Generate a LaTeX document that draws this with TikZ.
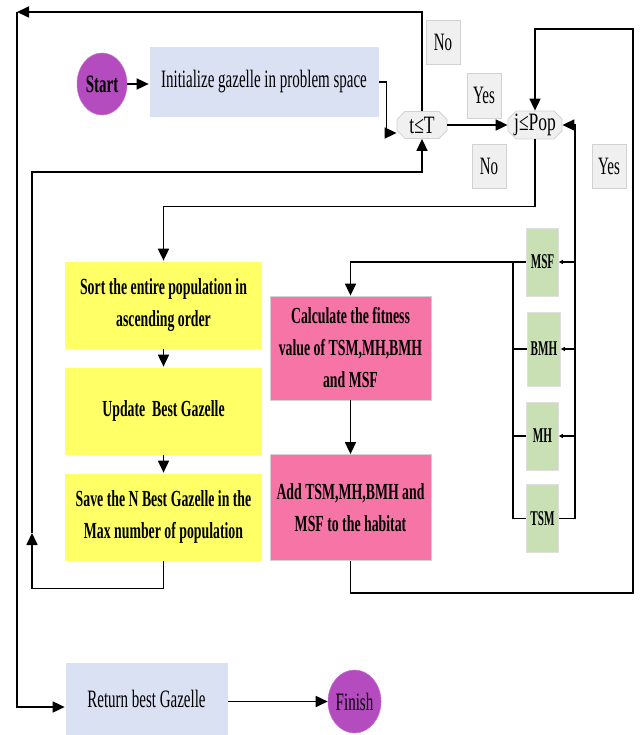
\documentclass[tikz,border=0pt]{standalone}
\usepackage{fontspec}
\setmainfont{Liberation Serif}
\newfontfamily\cf[FakeStretch=0.6]{Liberation Serif}
\newfontfamily\cg[FakeStretch=0.53]{Liberation Serif}
\newfontfamily\ct[FakeStretch=0.7]{Liberation Serif}
\usetikzlibrary{shapes.geometric,shapes.misc,arrows.meta,calc}
\definecolor{purp}{RGB}{180,76,191}
\definecolor{lav}{RGB}{218,225,243}
\definecolor{yel}{RGB}{255,255,102}
\definecolor{pnk}{RGB}{246,116,166}
\definecolor{grn}{RGB}{200,224,180}
\definecolor{lgr}{RGB}{240,240,240}
\definecolor{bgr}{RGB}{210,210,210}
\begin{document}
\begin{tikzpicture}[x=1pt,y=-1pt,line width=1.7pt,
  arr/.style={-{Triangle[length=12pt,width=11pt]}},
  sarr/.style={-{Triangle[length=4pt,width=4pt]}},
  oval/.style={ellipse,fill=purp,draw=purp!80!white,line width=0.5pt,inner sep=0pt,font={\cf\bfseries\fontsize{25}{30}\selectfont}},
  plainbox/.style={rectangle,inner sep=0pt,align=center,font={\cf\fontsize{25}{32}\selectfont}},
  ybox/.style={rectangle,fill=yel,inner sep=0pt,align=center,minimum width=197,font={\cf\bfseries\fontsize{23}{32}\selectfont}},
  pbox/.style={rectangle,fill=pnk,draw=bgr,line width=0.8pt,inner sep=0pt,align=center,minimum width=161,font={\cf\bfseries\fontsize{23}{32}\selectfont}},
  gbox/.style={rectangle,fill=grn,draw=bgr!70!white,line width=0.6pt,inner sep=0pt,minimum width=32,minimum height=68,font={\cg\bfseries\fontsize{21}{24}\selectfont}},
  lbl/.style={rectangle,fill=lgr,draw=bgr,line width=0.6pt,inner sep=0pt,minimum width=34,minimum height=44,font={\cf\fontsize{25}{28}\selectfont}},
  cond/.style={chamfered rectangle,chamfered rectangle xsep=5pt,fill=lgr,draw=bgr,line width=0.8pt,inner sep=0pt,minimum height=27,font={\ct\fontsize{25}{28}\selectfont}}
]
\useasboundingbox (0,0) rectangle (639,735);

% nodes
\node[oval,minimum width=50,minimum height=62] (start) at (102,84) {Start};
\node[plainbox,fill=lav,minimum width=229,minimum height=70] (init) at (264,82) {Initialize gazelle in problem space};
\node[cond,minimum width=50] (tT) at (422,125) {t≤T};
\node[cond,minimum width=54] (jP) at (535,125) {j≤Pop};

\node[lbl] (no1) at (443,42.5) {No};
\node[lbl,minimum height=45] (yes1) at (484,95.5) {Yes};
\node[lbl] (no2) at (489,166) {No};
\node[lbl] (yes2) at (609,166) {Yes};

\node[ybox,minimum height=87] (sort) at (163.5,305) {Sort the entire population in\\ascending order};
\node[ybox,minimum height=87] (update) at (163.5,411) {Update\ \ Best Gazelle};
\node[ybox,minimum height=87] (save) at (163.5,517) {Save the N Best Gazelle in the\\Max number of population};

\node[pbox,minimum height=104] (calc) at (350.5,348) {Calculate the fitness\\value of TSM,MH,BMH\\and MSF};
\node[pbox,minimum height=106] (add) at (350.5,507.5) {Add TSM,MH,BMH and\\MSF to the habitat};

\node[gbox] (msf) at (542.5,262) {MSF};
\node[gbox,minimum width=33,minimum height=74] (bmh) at (544,349) {BMH};
\node[gbox] (mh) at (542.5,436) {MH};
\node[gbox] (tsm) at (542.5,518.5) {TSM};

\node[plainbox,fill=lav,minimum width=162,minimum height=72] (ret) at (146.5,699) {Return best Gazelle};
\node[oval,minimum width=53,minimum height=63,font={\cf\fontsize{25}{30}\selectfont}] (fin) at (354.5,701.5) {Finish};

% coordinates
\coordinate (tl) at (17,12);
\coordinate (lb) at (32,533);
\coordinate (bx) at (513,0);
\coordinate (rx) at (575,0);

% connectors
\draw[arr] (start.east) -- (start.east -| init.west);
\draw[arr] (init.east) -- ++(7,0) |- ([yshift=-8pt]tT.west);
\draw[arr] (tT.east) -- (jP.west);
\draw[arr] (tT.north) |- (tl);
\draw[arr] (tl) |- ([yshift=-8pt]ret.west);
\draw[arr] (save.south) -- ++(0,27) -| (lb);
\draw[arr] (lb) -- (32,172) -| (tT.south);
\draw[arr] (add.south) -- ++(0,32) -| (633,29) -| (jP.north);
\draw[arr] (jP.south) -- ++(0,67) -| (sort.north);
\draw[arr] (sort.south) -- (update.north);
\draw[arr] (update.south) -- (save.north);
\draw[arr] (calc.south) -- (add.north);
\draw[arr] (msf.west) -| (calc.north);
\draw (bx |- msf.west) |- (tsm.west);
\draw (bx |- bmh.west) -- (bmh.west);
\draw (bx |- mh.west) -- (mh.west);
\draw[arr] (tsm.east) -- (rx |- tsm.east) |- (jP.east);
\draw[sarr] (rx |- msf.east) -- (msf.east);
\draw[sarr] (rx |- bmh.east) -- (bmh.east);
\draw[sarr] (rx |- mh.east) -- (mh.east);
\draw[arr] (ret.east |- fin.west) -- (fin.west);
\end{tikzpicture}
\end{document}
